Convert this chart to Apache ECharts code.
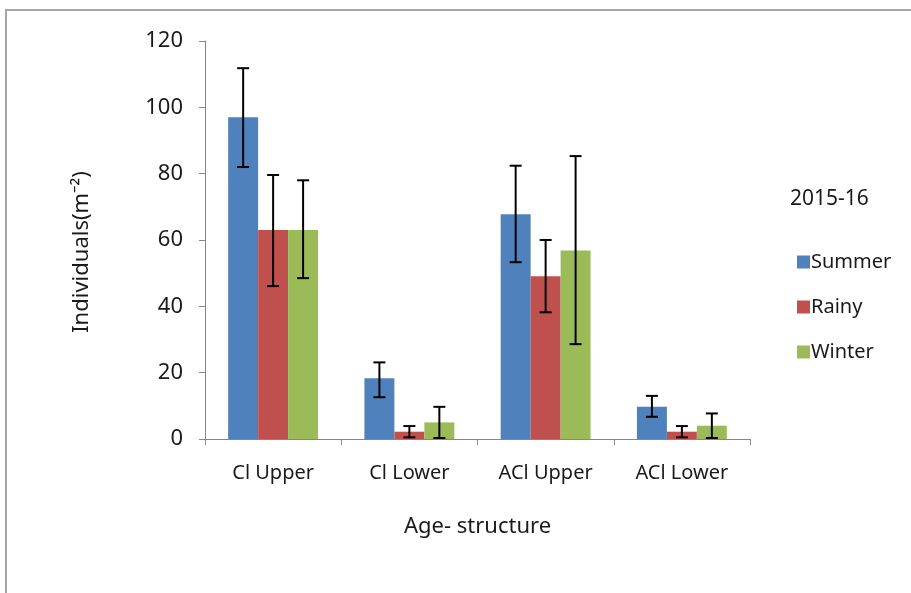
<!DOCTYPE html>
<html><head><meta charset="utf-8">
<script src="https://cdn.jsdelivr.net/npm/echarts@6/dist/echarts.min.js"></script>
<style>html,body{margin:0;padding:0;background:#fff}#c{width:911px;height:593px}</style>
</head><body><div id="c"></div>
<script>
var categories = ['Cl Upper', 'Cl Lower', 'ACl Upper', 'ACl Lower'];
var seasons = ['Summer', 'Rainy', 'Winter'];
var summer = [97, 18.3, 67.8, 9.7];
var rainy = [63, 2.2, 49.1, 2.2];
var winter = [63, 5, 56.8, 4];
var summerLow = [82, 12.6, 53.3, 6.7];
var summerHigh = [111.8, 23.1, 82.4, 13];
var rainyLow = [46.1, 0.5, 38.2, 0.5];
var rainyHigh = [79.6, 3.9, 60, 3.9];
var winterLow = [48.5, 0.3, 28.6, 0.3];
var winterHigh = [78, 9.7, 85.3, 7.7];
var yTicks = [0, 20, 40, 60, 80, 100, 120];
var colors = ['#4F81BD', '#C0504D', '#9BBB59'];
var FONT = 'Noto Sans';
var GAP = 0.34;

var values = [summer, rainy, winter];
var lows = [summerLow, rainyLow, winterLow];
var highs = [summerHigh, rainyHigh, winterHigh];

function errSeries(k) {
  return {
    type: 'custom',
    name: seasons[k] + ' err',
    z: 10,
    data: categories.map(function (c, i) { return [i, lows[k][i], highs[k][i]]; }),
    encode: { x: 0, y: [1, 2] },
    renderItem: function (params, api) {
      var i = api.value(0);
      var lo = api.coord([i, api.value(1)]);
      var hi = api.coord([i, api.value(2)]);
      var band = api.size([1, 0])[0];
      var bw = band * (1 - GAP) / 3;
      var x = lo[0] + (k - 1) * bw;
      var cap = 6;
      var st = { stroke: '#000', lineWidth: 2 };
      return {
        type: 'group',
        children: [
          { type: 'line', shape: { x1: x, y1: lo[1], x2: x, y2: hi[1] }, style: st },
          { type: 'line', shape: { x1: x - cap, y1: hi[1], x2: x + cap, y2: hi[1] }, style: st },
          { type: 'line', shape: { x1: x - cap, y1: lo[1], x2: x + cap, y2: lo[1] }, style: st }
        ]
      };
    }
  };
}

var series = seasons.map(function (s, k) {
  return {
    type: 'bar', name: s, data: values[k],
    barGap: '0%', barCategoryGap: (GAP * 100) + '%',
    itemStyle: { color: colors[k] }
  };
}).concat([errSeries(0), errSeries(1), errSeries(2)]);

var chart = echarts.init(document.getElementById('c'));
chart.setOption({
  animation: false,
  backgroundColor: '#fff',
  textStyle: { fontFamily: FONT },
  grid: { left: 205, right: 161, top: 41, bottom: 154 },
  title: {
    text: '2015-16', left: 785, top: 184,
    textStyle: { fontFamily: FONT, fontSize: 21, fontWeight: 'normal', color: '#1a1a1a' }
  },
  legend: {
    data: seasons, orient: 'vertical', left: 792, top: 247,
    itemWidth: 13, itemHeight: 13, itemGap: 25,
    icon: 'rect',
    textStyle: { fontFamily: FONT, fontSize: 20, color: '#1a1a1a', padding: [0, 0, 0, -4] }
  },
  xAxis: {
    type: 'category', data: categories,
    axisLine: { lineStyle: { color: '#868686', width: 1 } },
    axisTick: { show: true, length: 6, lineStyle: { color: '#868686' } },
    axisLabel: { fontFamily: FONT, fontSize: 20, color: '#1a1a1a', margin: 24 },
    name: 'Age- structure', nameLocation: 'middle', nameGap: 77,
    nameTextStyle: { fontFamily: FONT, fontSize: 22, color: '#1a1a1a' }
  },
  yAxis: {
    type: 'value', min: 0, max: 120, interval: 20,
    axisLine: { show: true, lineStyle: { color: '#868686', width: 1 } },
    axisTick: { show: true, length: 6, lineStyle: { color: '#868686' } },
    splitLine: { show: false },
    axisLabel: { fontFamily: FONT, fontSize: 22, color: '#1a1a1a', margin: 22,
      formatter: function (v) { return yTicks.indexOf(v) >= 0 ? String(v) : ''; } },
    name: 'Individuals(m\u207B\u00B2)', nameLocation: 'middle', nameGap: 112, nameRotate: 90,
    nameTextStyle: { fontFamily: FONT, fontSize: 22, color: '#1a1a1a', padding: [0, 24, 0, 0] }
  },
  graphic: [
    { type: 'polyline', shape: { points: [[6, 600], [6, 10], [920, 10]] },
      style: { stroke: '#a6a6a6', lineWidth: 2, fill: null } }
  ],
  series: series
});
</script></body></html>
